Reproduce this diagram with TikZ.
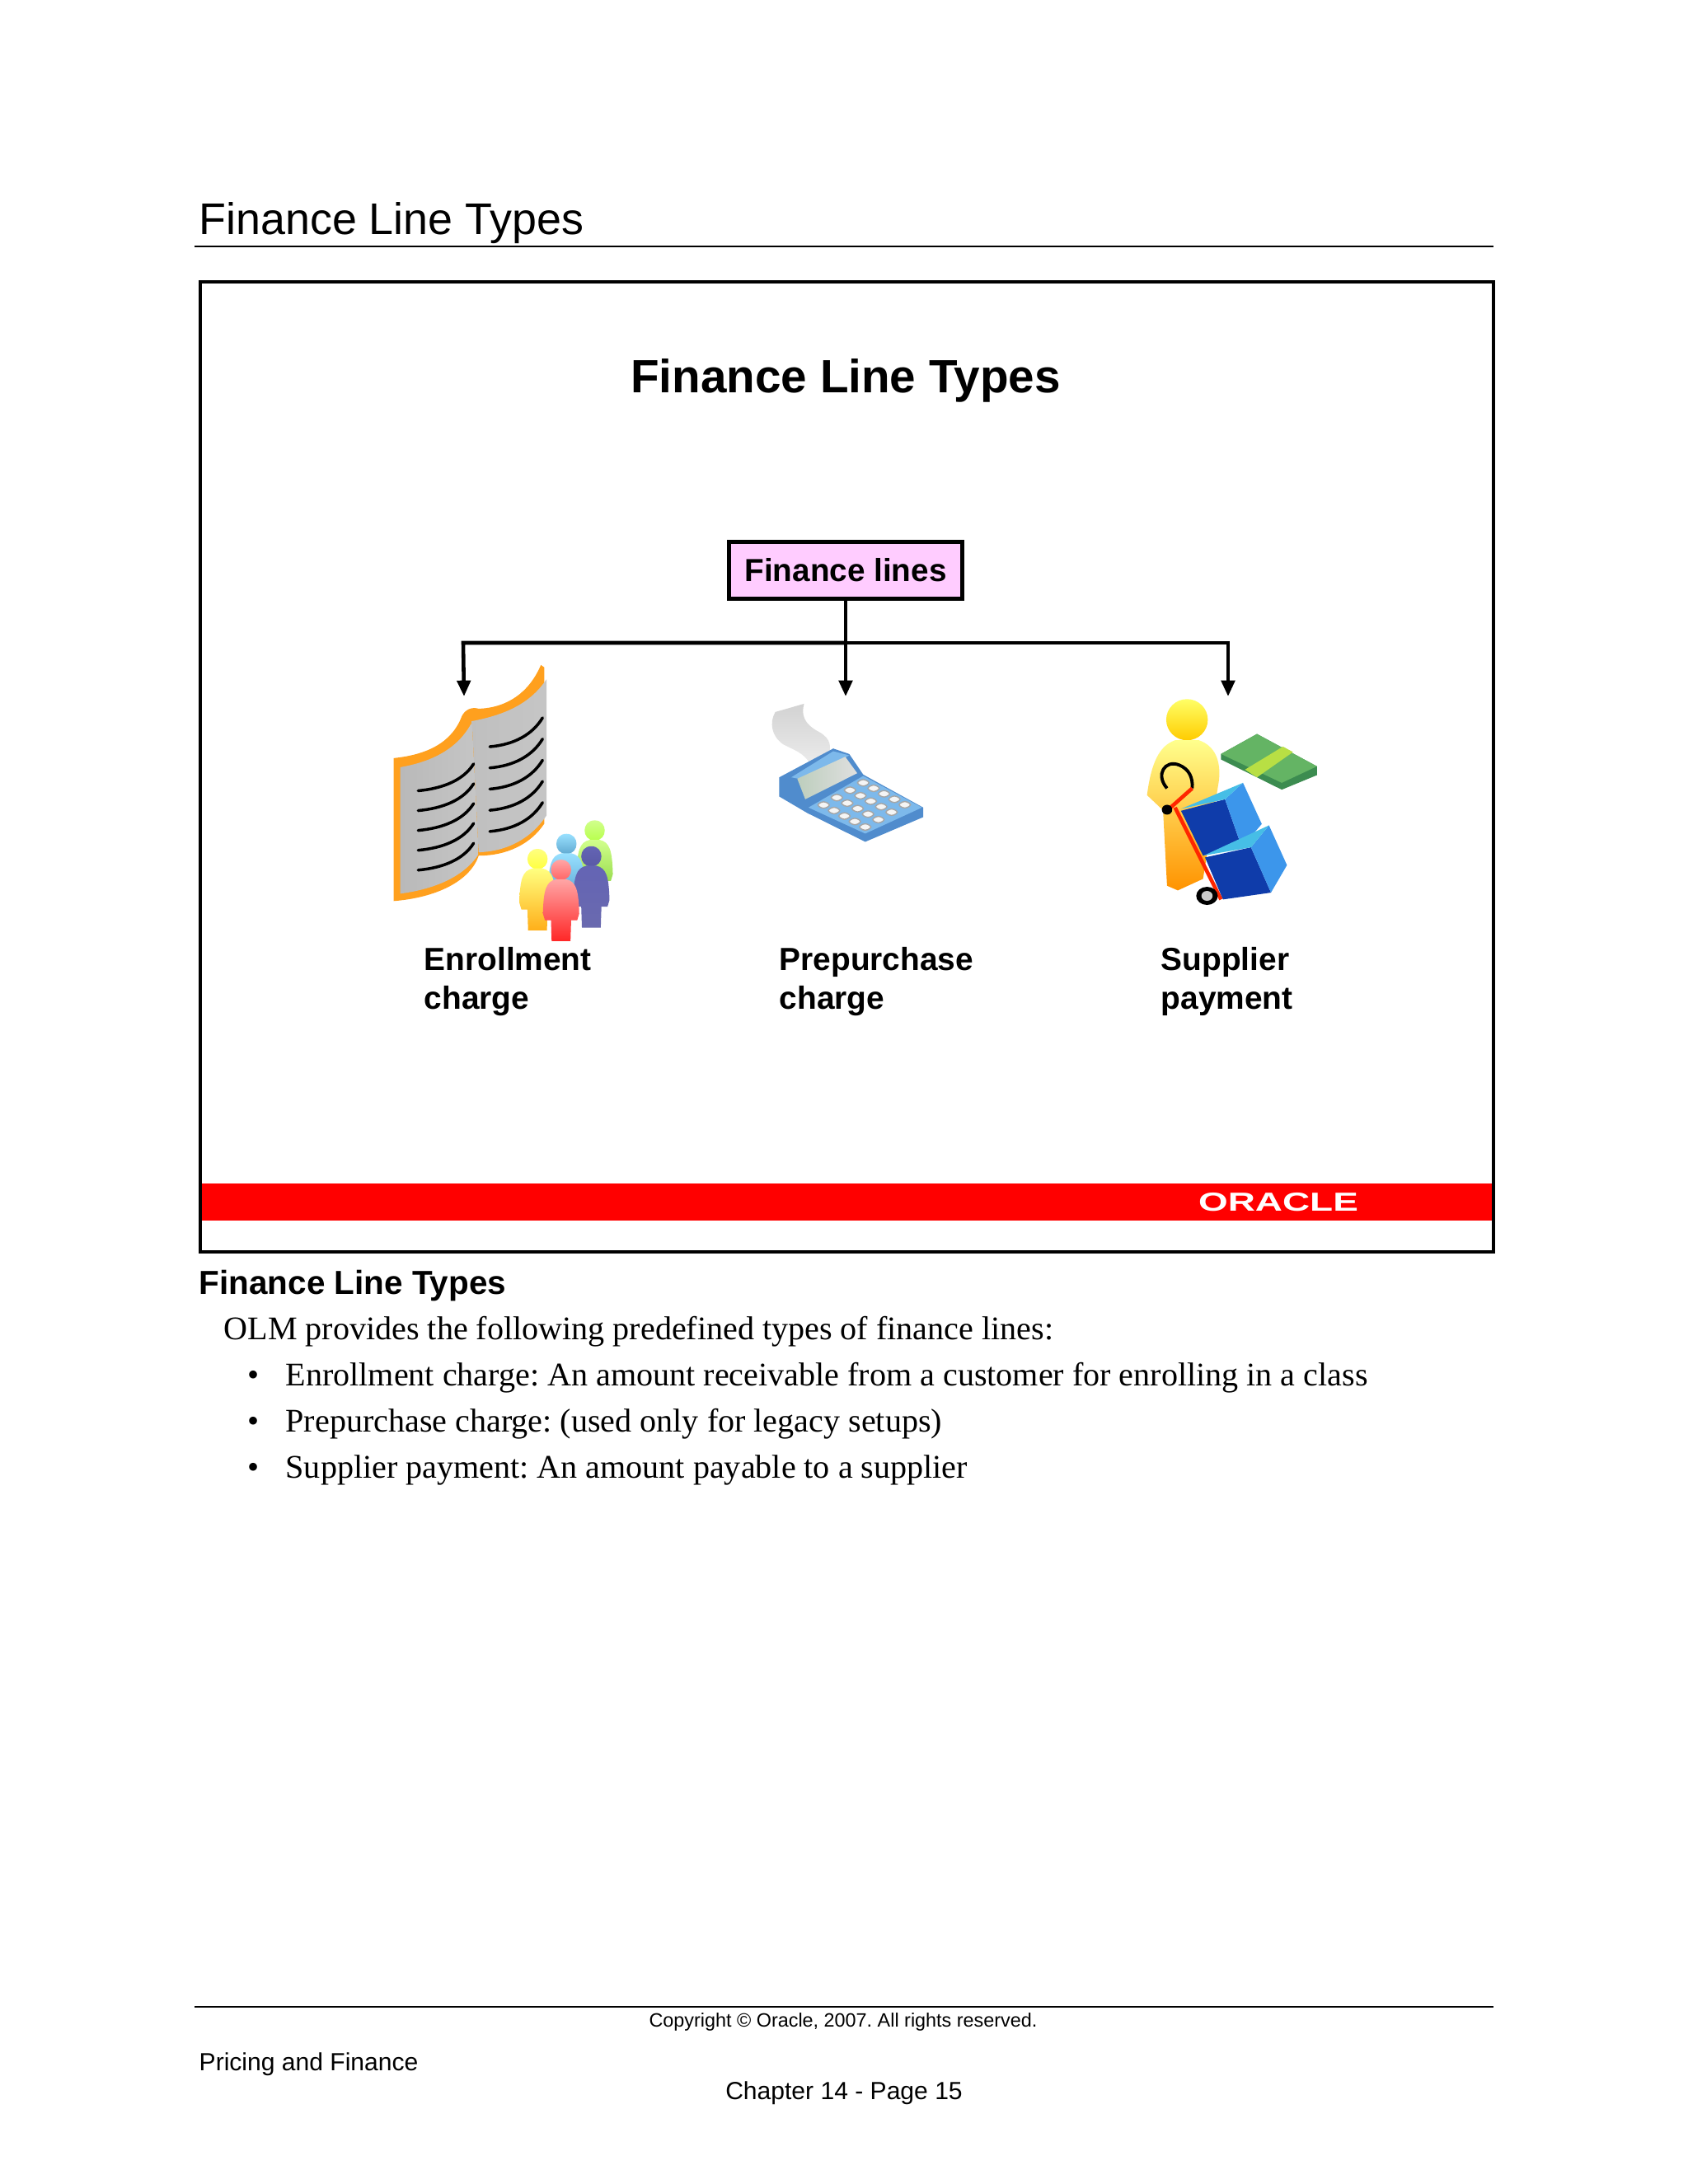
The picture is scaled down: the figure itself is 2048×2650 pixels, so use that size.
\documentclass[tikz,border=0pt]{standalone}
\usepackage{fontspec}
\setmainfont{Liberation Serif}
\setsansfont{Liberation Sans}
\usetikzlibrary{arrows.meta}
\definecolor{boxpink}{RGB}{255,204,255}
\definecolor{bookorange}{RGB}{255,160,30}
\definecolor{calcblue}{RGB}{80,140,205}
\definecolor{calclight}{RGB}{125,185,235}
\definecolor{cratedark}{RGB}{15,60,170}
\definecolor{crateside}{RGB}{60,150,235}
\definecolor{cratetop}{RGB}{70,190,230}
\definecolor{moneydark}{RGB}{60,140,80}
\definecolor{moneylight}{RGB}{100,180,100}
\tikzset{
  sanstext/.style={anchor=base west,inner sep=0pt,font=\sffamily\fontsize{#1}{#1}\selectfont},
  boldtext/.style={anchor=base west,inner sep=0pt,font=\sffamily\bfseries\fontsize{#1}{#1}\selectfont},
  serftext/.style={anchor=base west,inner sep=0pt,font=\rmfamily\fontsize{11.4}{11.4}\selectfont},
  conn/.style={line width=1.3pt,black},
  tip/.style={-{Triangle[length=5.5pt,width=4.6pt]}},
  rulerline/.style={line width=0.6pt,black}
}
\newcommand{\crowdperson}[5]{%
\begin{scope}[shift={(#1,#2)}]
\shade[top color=#3,bottom color=#4] (0,-30) .. controls (-40,-30) and (-40,30) .. (0,30) .. controls (40,30) and (40,-30) .. (0,-30) -- cycle;
\shade[top color=#3,bottom color=#5] (-15,28) .. controls (-45,35) and (-52,60) .. (-54,130) -- (-48,150) -- (-30,150) -- (-28,212) -- (28,212) -- (30,150) -- (48,150) -- (54,130) .. controls (52,60) and (45,35) .. (15,28) -- cycle;
\end{scope}}
\begin{document}
\frenchspacing
\begin{tikzpicture}[x=0.01cm,y=-0.01cm]
\useasboundingbox (0,0) rectangle (2048,2650);
\fill[white] (0,0) rectangle (2048,2650);

% Header and frame
\node[sanstext=15.3] (pagetitle) at (241,284) {Finance Line Types};
\draw[rulerline] (236,299) -- (1812,299);
\fill[red] (243,1436) rectangle (1812,1481);
\draw[line width=0.95pt] (243,342) rectangle (1812,1519);
\node[boldtext=16.1,anchor=base] (slidetitle) at (1026,476) {Finance Line Types};
\node[white,anchor=center,inner sep=0pt,xscale=1.45,font=\sffamily\bfseries\fontsize{9}{9}\selectfont] (oraclelogo) at (1551,1459) {ORACLE};

% Finance lines box and connectors
\node[draw,line width=1.3pt,fill=boxpink,minimum width=2.83cm,inner sep=0pt,
  minimum height=0.69cm,font=\sffamily\bfseries\fontsize{11}{11}\selectfont] (finlines) at (1026,692) {Finance lines};
\coordinate (busmid) at (1026,780);
\coordinate (busleft) at (562,780);
\coordinate (busright) at (1490,780);
\coordinate (enrolltip) at (563,845);
\coordinate (prepurchasetip) at (1026,845);
\coordinate (suppliertip) at (1490,845);
\draw[conn,tip] (finlines.south) -- (prepurchasetip);
\draw[conn,tip] (busmid) -- (busleft) -- (enrolltip);
\draw[conn,tip] (busmid) -- (busright) -- (suppliertip);

% Book and crowd
\begin{scope}[shift={(440,620)},scale=0.408]
\fill[bookorange] (92,735) .. controls (190,725) and (265,690) .. (295,610) .. controls (305,590) and (325,582) .. (345,588) .. controls (430,585) and (495,540) .. (530,458) -- (540,465) -- (540,930) .. controls (500,990) and (430,1025) .. (345,1025) .. controls (320,1100) and (220,1150) .. (92,1160) -- cycle;
\shade[left color=gray!55,middle color=gray!8,right color=gray!45] (112,762) .. controls (210,745) and (285,705) .. (325,628) -- (345,1020) .. controls (300,1090) and (210,1125) .. (112,1138) -- cycle;
\shade[left color=gray!50,middle color=gray!8,right color=gray!45] (325,625) .. controls (430,605) and (500,570) .. (547,500) -- (547,905) .. controls (500,975) and (430,1012) .. (345,1015) -- cycle;
\foreach \y in {0,59,118,177,236}
    \draw[line width=1pt,line cap=round] (165,832+\y) .. controls (240,825+\y) and (300,800+\y) .. (330,752+\y);
\foreach \y in {0,63,126,189,252}
    \draw[line width=1pt,line cap=round] (378,701+\y) .. controls (450,695+\y) and (505,665+\y) .. (535,615+\y);
\crowdperson{690}{950}{green!40!yellow!45!white}{green!40!yellow!70!white}{green!50!yellow!60!gray}
\crowdperson{606}{990}{blue!30!cyan!40!white}{blue!35!cyan!55!gray!80}{blue!40!cyan!50!gray}
\crowdperson{520}{1035}{yellow!50!white}{yellow!75!white}{orange!70!yellow!90!white}
\crowdperson{680}{1027}{blue!35!gray!90}{blue!30!gray}{blue!30!gray!90}
\crowdperson{590}{1067}{red!35!white}{red!60!white}{red!85!white}
\end{scope}

% Calculator
\begin{scope}[shift={(880,780)},xscale=0.485,yscale=0.333]
\shade[top color=gray!35,bottom color=gray!15] (125,252) -- (197,222) .. controls (190,260) and (195,295) .. (235,325) .. controls (265,350) and (265,380) .. (258,410) -- (215,450) .. controls (200,400) and (170,390) .. (145,370) .. controls (115,340) and (110,290) .. (125,252) -- cycle;
\fill[calcblue] (135,490) -- (270,385) -- (310,405) -- (345,480) -- (495,600) -- (495,635) -- (350,725) -- (205,620) -- (135,560) -- cycle;
\fill[calclight] (208,600) -- (345,485) -- (492,600) -- (350,695) -- cycle;
\fill[calclight] (165,490) -- (270,395) -- (310,410) -- (200,500) -- cycle;
\shade[left color=green!15!gray!45,right color=gray!25] (180,495) -- (300,415) -- (330,475) -- (200,570) -- cycle;
\foreach \c in {0,...,4}
  \foreach \r in {0,...,3}
    \fill[gray!8,draw=gray!70,line width=0.4pt,rounded corners=1pt] (345+\c*26-\r*33,495+\c*20+\r*27) -- ++(18,15) -- ++(-18,15) -- ++(-18,-15) -- cycle;
\end{scope}

% Supplier with trolley and money
\begin{scope}[shift={(880,780)},xscale=0.485,yscale=0.333]
\shade[top color=yellow!60!white,bottom color=yellow!60!orange] (1155,280) ellipse [x radius=52,y radius=75];
\shade[top color=yellow!45!white,middle color=yellow!70!orange!90,bottom color=orange!85!yellow] (1125,355) .. controls (1085,375) and (1065,440) .. (1055,555) -- (1095,610) -- (1105,885) -- (1132,902) -- (1195,860) -- (1235,500) .. controls (1240,430) and (1225,375) .. (1185,355) -- cycle;
\fill[moneydark] (1240,405) -- (1330,332) -- (1480,450) -- (1480,482) -- (1392,535) -- (1240,425) -- cycle;
\fill[moneylight] (1240,405) -- (1330,332) -- (1480,450) -- (1392,510) -- cycle;
\fill[yellow!65!green!80!white] (1300,462) -- (1395,378) -- (1420,398) -- (1330,490) -- cycle;
\draw[line width=1.1pt,black] (1105,530) .. controls (1075,480) and (1100,425) .. (1135,445) .. controls (1160,460) and (1170,490) .. (1168,530);
\draw[line width=1.3pt,red!70!orange] (1168,530) -- (1110,605) (1125,600) -- (1240,935);
\fill[black] (1105,608) ellipse [x radius=13,y radius=18];
\fill[cratedark] (1140,612) -- (1250,570) -- (1292,745) -- (1195,775) -- cycle;
\fill[crateside] (1250,570) -- (1295,510) -- (1342,660) -- (1292,745) -- cycle;
\fill[cratetop] (1140,605) -- (1295,510) -- (1250,570) -- cycle;
\fill[cratedark] (1200,782) -- (1315,745) -- (1365,910) -- (1245,935) -- cycle;
\fill[crateside] (1315,745) -- (1360,665) -- (1405,810) -- (1365,910) -- cycle;
\fill[cratetop] (1197,775) -- (1360,665) -- (1315,745) -- cycle;
\fill[black] (1205,922) ellipse [x radius=27,y radius=33];
\fill[gray!40] (1205,922) ellipse [x radius=14,y radius=18];
\end{scope}

% Icon labels
\node[boldtext=11.05] (enrolla) at (514,1177) {Enrollment};
\node[boldtext=11.05] (enrollb) at (514,1224) {charge};
\node[boldtext=11.05] (prepura) at (945,1177) {Prepurchase};
\node[boldtext=11.05] (prepurb) at (945,1224) {charge};
\node[boldtext=11.05] (suppla) at (1408,1177) {Supplier};
\node[boldtext=11.05] (supplb) at (1408,1224) {payment};

% Notes under the slide
\node[boldtext=11.5] (notehead) at (241,1570) {Finance Line Types};
\node[serftext] (noteintro) at (271,1625) {OLM provides the following predefined types of finance lines:};
\foreach \y/\ytext in {1681/Enrollment charge: An amount receivable from a customer for enrolling in a class,
    1737/Prepurchase charge: (used only for legacy setups),
    1793/Supplier payment: An amount payable to a supplier}{
    \node[serftext] at (300,\y) {\textbullet};
    \node[serftext] at (346,\y) {\ytext};
}

% Footer
\draw[rulerline] (236,2435) -- (1812,2435);
\node[sanstext=6.65,anchor=base] (copyright) at (1023,2459) {Copyright © Oracle, 2007. All rights reserved.};
\node[sanstext=8.55] (pricing) at (241,2512) {Pricing and Finance};
\node[sanstext=8.55,anchor=base] (chapter) at (1024,2547) {Chapter 14 - Page 15};
\end{tikzpicture}
\end{document}
